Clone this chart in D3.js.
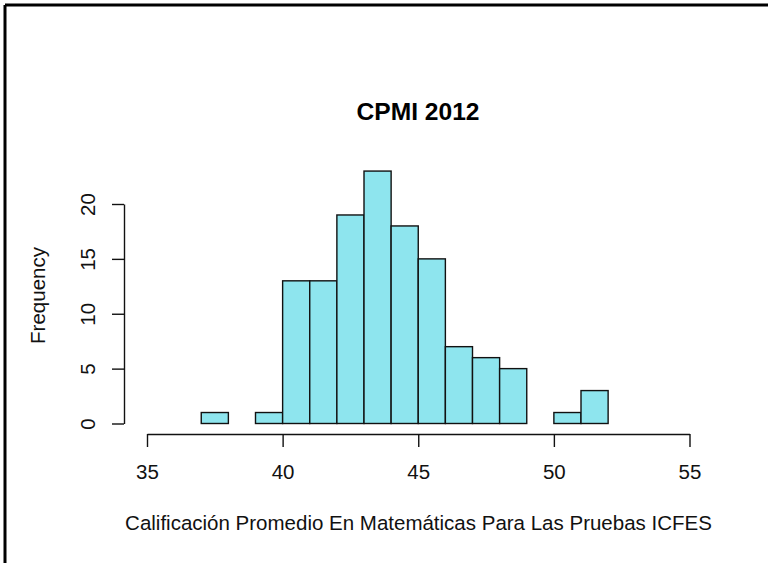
<!DOCTYPE html>
<html>
<head>
<meta charset="utf-8">
<script src="https://cdn.jsdelivr.net/npm/d3@7"></script>
<style>
  html, body { margin: 0; padding: 0; background: #fff; }
  svg { display: block; font-family: Arial, "Liberation Sans", sans-serif; }
</style>
</head>
<body>
<svg id="chart" width="768" height="563"></svg>
<script>
// Histogram of average maths scores, one-point bins
const binStarts = [37, 38, 39, 40, 41, 42, 43, 44, 45, 46, 47, 48, 49, 50, 51];
const binWidth = 1;
const counts = [1, 0, 1, 13, 13, 19, 23, 18, 15, 7, 6, 5, 0, 1, 3];
const xTicks = [35, 40, 45, 50, 55];
const yTicks = [0, 5, 10, 15, 20];
const title = "CPMI 2012";
const xLabel = "Calificación Promedio En Matemáticas Para Las Pruebas ICFES";
const yLabel = "Frequency";

const font = "Arial, 'Liberation Sans', sans-serif";
const svg = d3.select("#chart");

// frame edges
svg.append("line").attr("x1", 5).attr("x2", 768).attr("y1", 5).attr("y2", 5)
  .attr("stroke", "#000").attr("stroke-width", 3);
svg.append("line").attr("x1", 5).attr("x2", 5).attr("y1", 5).attr("y2", 563)
  .attr("stroke", "#000").attr("stroke-width", 3);

const x = d3.scaleLinear().domain([35, 55]).range([147, 689.5]);
const y = d3.scaleLinear().domain([0, 20]).range([423.5, 204]);

// bars
svg.append("g").selectAll("rect")
  .data(binStarts.map((s, i) => ({ s, c: counts[i] })))
  .join("rect")
  .attr("x", d => x(d.s))
  .attr("width", d => x(d.s + binWidth) - x(d.s))
  .attr("y", d => y(d.c))
  .attr("height", d => y(0) - y(d.c))
  .attr("fill", "#8EE5EE")
  .attr("stroke", "#111")
  .attr("stroke-width", 1.4);

// x axis
const xAxis = svg.append("g")
  .attr("transform", "translate(0,434)")
  .call(d3.axisBottom(x).tickValues(xTicks).tickSize(13).tickPadding(17).tickSizeOuter(0));
xAxis.select(".domain").attr("stroke", "#111").attr("stroke-width", 1.4);
xAxis.selectAll(".tick line").attr("stroke", "#111").attr("stroke-width", 1.4);
xAxis.selectAll("text").attr("font-size", 20.5).attr("fill", "#111")
  .attr("font-family", font);

// y axis
const yAxis = svg.append("g")
  .attr("transform", "translate(124,0)")
  .call(d3.axisLeft(y).tickValues(yTicks).tickSize(12).tickSizeOuter(0).tickFormat(d3.format("d")));
yAxis.select(".domain").attr("stroke", "#111").attr("stroke-width", 1.4);
yAxis.selectAll(".tick line").attr("stroke", "#111").attr("stroke-width", 1.4);
yAxis.selectAll("text")
  .attr("font-size", 20.5).attr("fill", "#111")
  .attr("font-family", font)
  .attr("x", 0).attr("dy", null)
  .attr("text-anchor", "middle")
  .attr("transform", "translate(-37,0) rotate(-90)")
  .attr("dominant-baseline", "central");

// title
svg.append("text")
  .attr("x", 418).attr("y", 120)
  .attr("text-anchor", "middle")
  .attr("font-size", 24.6).attr("font-weight", "bold").attr("fill", "#000")
  .text(title);

// axis titles
svg.append("text")
  .attr("x", 418.5).attr("y", 530)
  .attr("text-anchor", "middle")
  .attr("font-size", 20.5).attr("fill", "#111")
  .text(xLabel);

svg.append("text")
  .attr("transform", "translate(45,295.5) rotate(-90)")
  .attr("text-anchor", "middle")
  .attr("font-size", 20.5).attr("fill", "#111")
  .text(yLabel);
</script>
</body>
</html>
